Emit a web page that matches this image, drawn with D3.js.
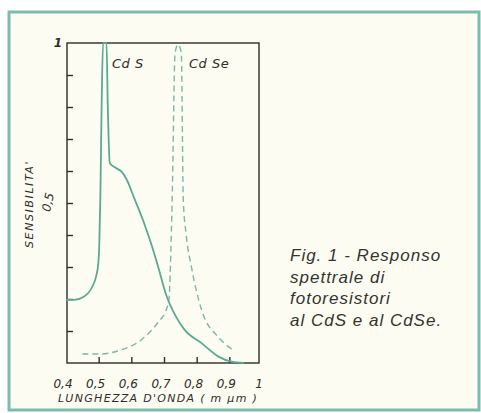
<!DOCTYPE html>
<html>
<head>
<meta charset="utf-8">
<script src="https://cdn.jsdelivr.net/npm/d3@7"></script>
<style>
  html, body { margin: 0; padding: 0; background: #ffffff; }
  svg { display: block; }
</style>
</head>
<body>
<div id="chart"></div>
<script>
// wavelength ticks (micrometres) and their hand-written labels
var xTicks = [0.4, 0.5, 0.6, 0.7, 0.8, 0.9, 1.0];
var xTickLabels = ["0,4", "0,5", "0,6", "0,7", "0,8", "0,9", "1"];
var yTicks = [0.1, 0.2, 0.3, 0.4, 0.5, 0.6, 0.7, 0.8, 0.9];

// CdS response (solid)
var cdsX = [0.40, 0.425, 0.453, 0.48, 0.492, 0.499, 0.502, 0.505, 0.509, 0.5135, 0.524, 0.528, 0.534, 0.552, 0.57, 0.585, 0.607, 0.638, 0.66, 0.681, 0.706, 0.735, 0.762, 0.815, 0.867, 0.907, 0.944];
var cdsY = [0.197, 0.197, 0.206, 0.2375, 0.27, 0.3125, 0.375, 0.51, 0.80, 1.0, 1.0, 0.80, 0.625, 0.61, 0.598, 0.575, 0.52, 0.44, 0.375, 0.305, 0.215, 0.148, 0.105, 0.062, 0.02, 0.004, 0.0];

// CdSe response (dashed)
var cdseX = [0.45, 0.50, 0.567, 0.63, 0.68, 0.71, 0.715, 0.725, 0.734, 0.743, 0.753, 0.759, 0.768, 0.784, 0.815, 0.867, 0.913];
var cdseY = [0.028, 0.028, 0.04, 0.072, 0.125, 0.175, 0.197, 0.51, 0.97, 0.995, 0.97, 0.51, 0.40, 0.30, 0.166, 0.08, 0.04];

var captionLines = ["Fig. 1 - Responso", "spettrale di", "fotoresistori", "al CdS e al CdSe."];

var W = 481, H = 413;
var teal = "#5aa996";
var ink = "#2e2e2a";

var svg = d3.select("#chart").append("svg")
  .attr("width", W)
  .attr("height", H);

// cream page + teal frame
svg.append("rect").attr("x", 0).attr("y", 0).attr("width", W).attr("height", H).attr("fill", "#ffffff");
svg.append("rect")
  .attr("x", 9).attr("y", 12).attr("width", 470).attr("height", 398)
  .attr("fill", "#fcfcf2").attr("stroke", "#7dbcad").attr("stroke-width", 3);

var plot = { left: 67, right: 259, top: 43, bottom: 363 };

var x = d3.scaleLinear().domain([0.4, 1.0]).range([66, 262]);
var y = d3.scaleLinear().domain([0, 1]).range([plot.bottom, plot.top]);

// box
svg.append("rect")
  .attr("x", plot.left).attr("y", plot.top)
  .attr("width", plot.right - plot.left).attr("height", plot.bottom - plot.top)
  .attr("fill", "none").attr("stroke", ink).attr("stroke-width", 1.4);

// inward ticks
var yAxis = d3.axisRight(y).tickValues(yTicks).tickSize(6).tickFormat("");
svg.append("g").attr("transform", "translate(" + plot.left + ",0)").call(yAxis)
  .call(function(g) { g.select(".domain").remove(); })
  .selectAll("line").attr("stroke", ink).attr("stroke-width", 1.4);

var xAxis = d3.axisTop(x).tickValues(xTicks.slice(1, 6)).tickSize(6).tickFormat("");
svg.append("g").attr("transform", "translate(0," + plot.bottom + ")").call(xAxis)
  .call(function(g) { g.select(".domain").remove(); })
  .selectAll("line").attr("stroke", ink).attr("stroke-width", 1.4);

// x tick labels
var hand = "'DejaVu Sans', sans-serif";
svg.selectAll(".xlab")
  .data(xTicks)
  .enter().append("text")
  .attr("class", "xlab")
  .attr("x", function(d) { return x(d) - 3; })
  .attr("y", 388)
  .attr("text-anchor", "middle")
  .attr("font-family", hand)
  .attr("font-style", "italic")
  .attr("font-size", 12)
  .attr("fill", ink)
  .text(function(d, i) { return xTickLabels[i]; });

// y tick labels
svg.append("text")
  .attr("x", 58).attr("y", y(1) + 4)
  .attr("text-anchor", "middle")
  .attr("font-family", hand).attr("font-style", "italic").attr("font-weight", "bold")
  .attr("font-size", 12).attr("fill", ink)
  .text("1");
svg.append("text")
  .attr("transform", "translate(52," + y(0.5) + ") rotate(-78)")
  .attr("text-anchor", "middle")
  .attr("font-family", hand).attr("font-style", "italic")
  .attr("font-size", 12).attr("fill", ink)
  .text("0,5");

// axis titles
svg.append("text")
  .attr("transform", "translate(33,204) rotate(-90)")
  .attr("text-anchor", "middle")
  .attr("font-family", hand).attr("font-style", "italic")
  .attr("font-size", 11).attr("letter-spacing", 1.6).attr("fill", ink)
  .text("SENSIBILITA'");

svg.append("text")
  .attr("x", 158).attr("y", 402)
  .attr("text-anchor", "middle")
  .attr("font-family", hand).attr("font-style", "italic")
  .attr("font-size", 11).attr("letter-spacing", 1.3).attr("fill", ink)
  .text("LUNGHEZZA D'ONDA ( m µm )");

// curve labels
svg.append("text").attr("x", 112).attr("y", 68)
  .attr("font-family", hand).attr("font-style", "italic")
  .attr("font-size", 13).attr("letter-spacing", 0.5).attr("fill", ink).text("Cd S");
svg.append("text").attr("x", 189).attr("y", 68)
  .attr("font-family", hand).attr("font-style", "italic")
  .attr("font-size", 13).attr("letter-spacing", 0.5).attr("fill", ink).text("Cd Se");

// curves
var line = d3.line()
  .x(function(d) { return x(d[0]); })
  .y(function(d) { return y(d[1]); })
  .curve(d3.curveMonotoneX);

var cds = cdsX.map(function(v, i) { return [v, cdsY[i]]; });
var cdse = cdseX.map(function(v, i) { return [v, cdseY[i]]; });

svg.append("path")
  .datum(cdse)
  .attr("d", line)
  .attr("fill", "none")
  .attr("stroke", "#79b8aa")
  .attr("stroke-width", 1.4)
  .attr("stroke-dasharray", "6,4");

svg.append("path")
  .datum(cds)
  .attr("d", line)
  .attr("fill", "none")
  .attr("stroke", teal)
  .attr("stroke-width", 1.8);

// caption
svg.selectAll(".cap")
  .data(captionLines)
  .enter().append("text")
  .attr("class", "cap")
  .attr("x", 290)
  .attr("y", function(d, i) { return 261 + i * 21.7; })
  .attr("font-family", "'Liberation Sans', Arial, sans-serif")
  .attr("font-style", "italic")
  .attr("font-size", 17)
  .attr("letter-spacing", 1)
  .attr("fill", "#333330")
  .text(function(d) { return d; });
</script>
</body>
</html>
